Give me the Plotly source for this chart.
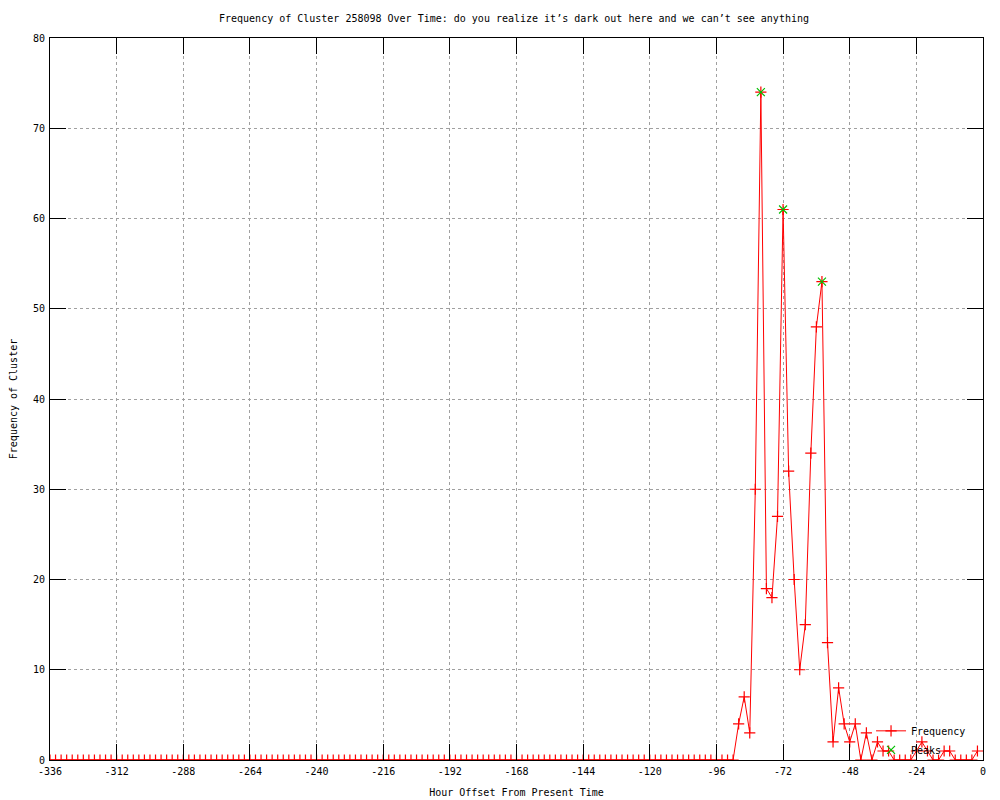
import plotly.graph_objects as go

# Hour offsets (every 2 hours) and cluster frequency
hours = list(range(-336, 0, 2))
nonzero = {
    -88: 4, -86: 7, -84: 3, -82: 30, -80: 74, -78: 19, -76: 18, -74: 27,
    -72: 61, -70: 32, -68: 20, -66: 10, -64: 15, -62: 34, -60: 48, -58: 53,
    -56: 13, -54: 2, -52: 8, -50: 4, -48: 2, -46: 4, -44: 0, -42: 3,
    -40: 0, -38: 2, -36: 1, -34: 1, -24: 1, -22: 2, -20: 1, -14: 1,
    -12: 1, -2: 1,
}
frequency = [nonzero.get(h, 0) for h in hours]

peak_hours = [-80, -72, -58]
peak_values = [74, 61, 53]

x_tickvals = list(range(-336, 1, 24))
x_ticktext = [str(v) for v in x_tickvals]
y_tickvals = list(range(0, 81, 10))
y_ticktext = [str(v) for v in y_tickvals]

FONT = "DejaVu Sans Mono"
FS = 10

fig = go.Figure()
fig.add_trace(go.Scatter(
    x=hours, y=frequency, name="Frequency", mode="lines+markers",
    line=dict(color="#ff0000", width=1),
    marker=dict(symbol="cross-thin", size=8, line=dict(color="#ff0000", width=1.2)),
))
fig.add_trace(go.Scatter(
    x=peak_hours, y=peak_values, name="Peaks", mode="markers",
    marker=dict(symbol="x-thin", size=8, color="#00c000", line=dict(color="#00c000", width=1.2)),
))

axis_common = dict(
    showline=True, linecolor="black", linewidth=1, mirror="ticks",
    ticks="inside", ticklen=16, tickcolor="black", tickwidth=1,
    showgrid=True, gridcolor="#a0a0a0", griddash="dot", gridwidth=1,
    zeroline=False, tickfont=dict(family=FONT, size=FS, color="black"),
    ticklabelstandoff=2,
)

fig.update_layout(
    width=1000, height=800,
    paper_bgcolor="white", plot_bgcolor="white",
    margin=dict(l=42, r=25, t=30, b=48),
    title=dict(
        text="Frequency of Cluster 258098 Over Time: do you realize it\u2019s dark out here and we can\u2019t see anything",
        x=0.506, xanchor="center", y=0.9875, yanchor="middle",
        font=dict(family=FONT, size=FS, color="black"),
    ),
    xaxis=dict(
        range=[-336, 0], tickvals=x_tickvals, ticktext=x_ticktext,
        title=dict(text="Hour Offset From Present Time", standoff=12,
                   font=dict(family=FONT, size=FS, color="black")),
        automargin=False, **axis_common,
    ),
    yaxis=dict(
        range=[0, 80], tickvals=y_tickvals, ticktext=y_ticktext,
        title=dict(text="Frequency of Cluster", standoff=14,
                   font=dict(family=FONT, size=FS, color="black")),
        automargin=False, **axis_common,
    ),
    legend=dict(
        x=0.88, y=-0.006, xanchor="left", yanchor="bottom",
        bgcolor="rgba(0,0,0,0)", borderwidth=0,
        font=dict(family=FONT, size=FS, color="black"),
        tracegroupgap=0, itemwidth=30,
    ),
    showlegend=True,
)

fig.write_html("out.html")
